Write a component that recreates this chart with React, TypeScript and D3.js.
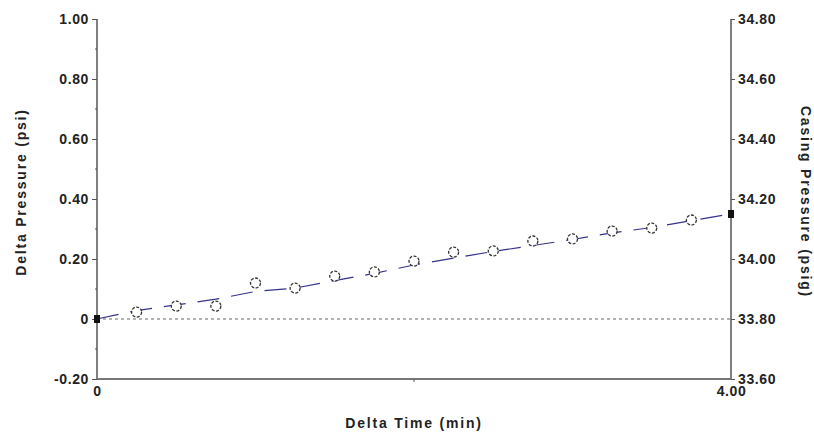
import React, { useEffect, useRef } from "react";
import * as d3 from "d3";

const times = [0, 0.25, 0.5, 0.75, 1.0, 1.25, 1.5, 1.75, 2.0, 2.25, 2.5, 2.75, 3.0, 3.25, 3.5, 3.75, 4.0];
const markerValues = [0, 0.023, 0.043, 0.043, 0.12, 0.103, 0.143, 0.157, 0.193, 0.223, 0.227, 0.26, 0.267, 0.293, 0.303, 0.33, 0.35];
const lineValues = [0, 0.028, 0.047, 0.066, 0.092, 0.103, 0.128, 0.152, 0.18, 0.203, 0.225, 0.245, 0.265, 0.287, 0.305, 0.328, 0.35];
const leftTicks = [-0.2, 0, 0.2, 0.4, 0.6, 0.8, 1.0];
const leftMinor = [-0.1, 0.1, 0.3, 0.5, 0.7, 0.9];
const rightTicks = [33.6, 33.8, 34.0, 34.2, 34.4, 34.6, 34.8];
const xTickLabels = [0, 4];
const xMinor = [2];

const W = 814, H = 434;
const L = 97, R = 731, T = 19, B = 379;
const FONT = "'Liberation Sans', Arial, sans-serif";

const fmt = (d: number) => (d === 0 ? "0" : d.toFixed(2));

export default function App() {
  const ref = useRef<SVGSVGElement>(null);
  useEffect(() => {
    const svg = d3.select(ref.current);
    svg.selectAll("*").remove();
    const x = d3.scaleLinear().domain([0, 4]).range([L, R]);
    const y = d3.scaleLinear().domain([-0.2, 1.0]).range([B, T]);
    const y2 = d3.scaleLinear().domain([33.6, 34.8]).range([B, T]);
    const axisColor = "#555";
    const styleText = (sel: any, size = 14, ls = 0.6) =>
      sel.attr("font-family", FONT).attr("font-size", size).attr("font-weight", "bold")
        .attr("fill", "#222").attr("letter-spacing", ls);

    // zero dotted line
    svg.append("line").attr("x1", L).attr("x2", R).attr("y1", y(0)).attr("y2", y(0))
      .attr("stroke", "#666").attr("stroke-width", 1).attr("stroke-dasharray", "3,3");

    // left axis
    const gl = svg.append("g").attr("transform", `translate(${L},0)`);
    gl.call(d3.axisLeft(y).tickValues(leftTicks).tickSize(5).tickPadding(3).tickFormat((d: any) => fmt(d)));
    gl.selectAll(".tick line").attr("stroke", axisColor);
    gl.select(".domain").attr("stroke", axisColor).attr("stroke-width", 1.5).attr("d", `M0,${T}V${B}`);
    styleText(gl.selectAll(".tick text"));
    leftMinor.forEach(v => {
      gl.append("line").attr("x1", -2).attr("x2", 0).attr("y1", y(v)).attr("y2", y(v)).attr("stroke", axisColor);
    });

    // right axis
    const gr = svg.append("g").attr("transform", `translate(${R},0)`);
    gr.call(d3.axisRight(y2).tickValues(rightTicks).tickSize(4).tickPadding(3).tickFormat((d: any) => fmt(d)));
    gr.selectAll(".tick line").attr("stroke", axisColor);
    gr.select(".domain").attr("stroke", axisColor).attr("stroke-width", 1.5).attr("d", `M0,${T}V${B}`);
    styleText(gr.selectAll(".tick text"));

    // bottom axis
    const gb = svg.append("g").attr("transform", `translate(0,${B})`);
    gb.call(d3.axisBottom(x).tickValues(xTickLabels).tickSize(0).tickPadding(7).tickFormat((d: any) => fmt(d)));
    gb.select(".domain").attr("stroke", "#777").attr("stroke-width", 2).attr("d", `M${L},0H${R}`);
    styleText(gb.selectAll(".tick text"));
    xMinor.forEach(v => {
      gb.append("line").attr("x1", x(v)).attr("x2", x(v)).attr("y1", 0).attr("y2", 3).attr("stroke", axisColor);
    });

    // dashed line series
    const line = d3.line<number>().x((_, i) => x(times[i])).y(d => y(d));
    svg.append("path").datum(lineValues).attr("d", line as any).attr("fill", "none")
      .attr("stroke", "#33338a").attr("stroke-width", 1.2).attr("stroke-dasharray", "22,12");

    // markers
    svg.append("g").selectAll("circle").data(markerValues.slice(1, -1)).join("circle")
      .attr("cx", (_, i) => x(times[i + 1])).attr("cy", d => y(d)).attr("r", 5)
      .attr("fill", "white").attr("stroke", "#333").attr("stroke-width", 1.3).attr("stroke-dasharray", "3,1.5");
    [0, markerValues.length - 1].forEach(i => {
      svg.append("rect").attr("x", x(times[i]) - 3).attr("y", y(markerValues[i]) - 4)
        .attr("width", 6).attr("height", 8).attr("fill", "#111");
    });

    // axis titles
    styleText(svg.append("text").attr("x", x(2)).attr("y", 428).attr("text-anchor", "middle"), 14, 1.8)
      .text("Delta Time (min)");
    styleText(svg.append("text").attr("transform", `translate(26,192) rotate(-90)`).attr("text-anchor", "middle"), 14, 1.8)
      .text("Delta Pressure (psi)");
    styleText(svg.append("text").attr("transform", `translate(801,202) rotate(90)`).attr("text-anchor", "middle"), 14, 1.8)
      .text("Casing Pressure (psig)");
  }, []);
  return (
    <svg ref={ref} width={W} height={H}
      style={{ position: "absolute", left: 0, top: 0, background: "white" }} />
  );
}
